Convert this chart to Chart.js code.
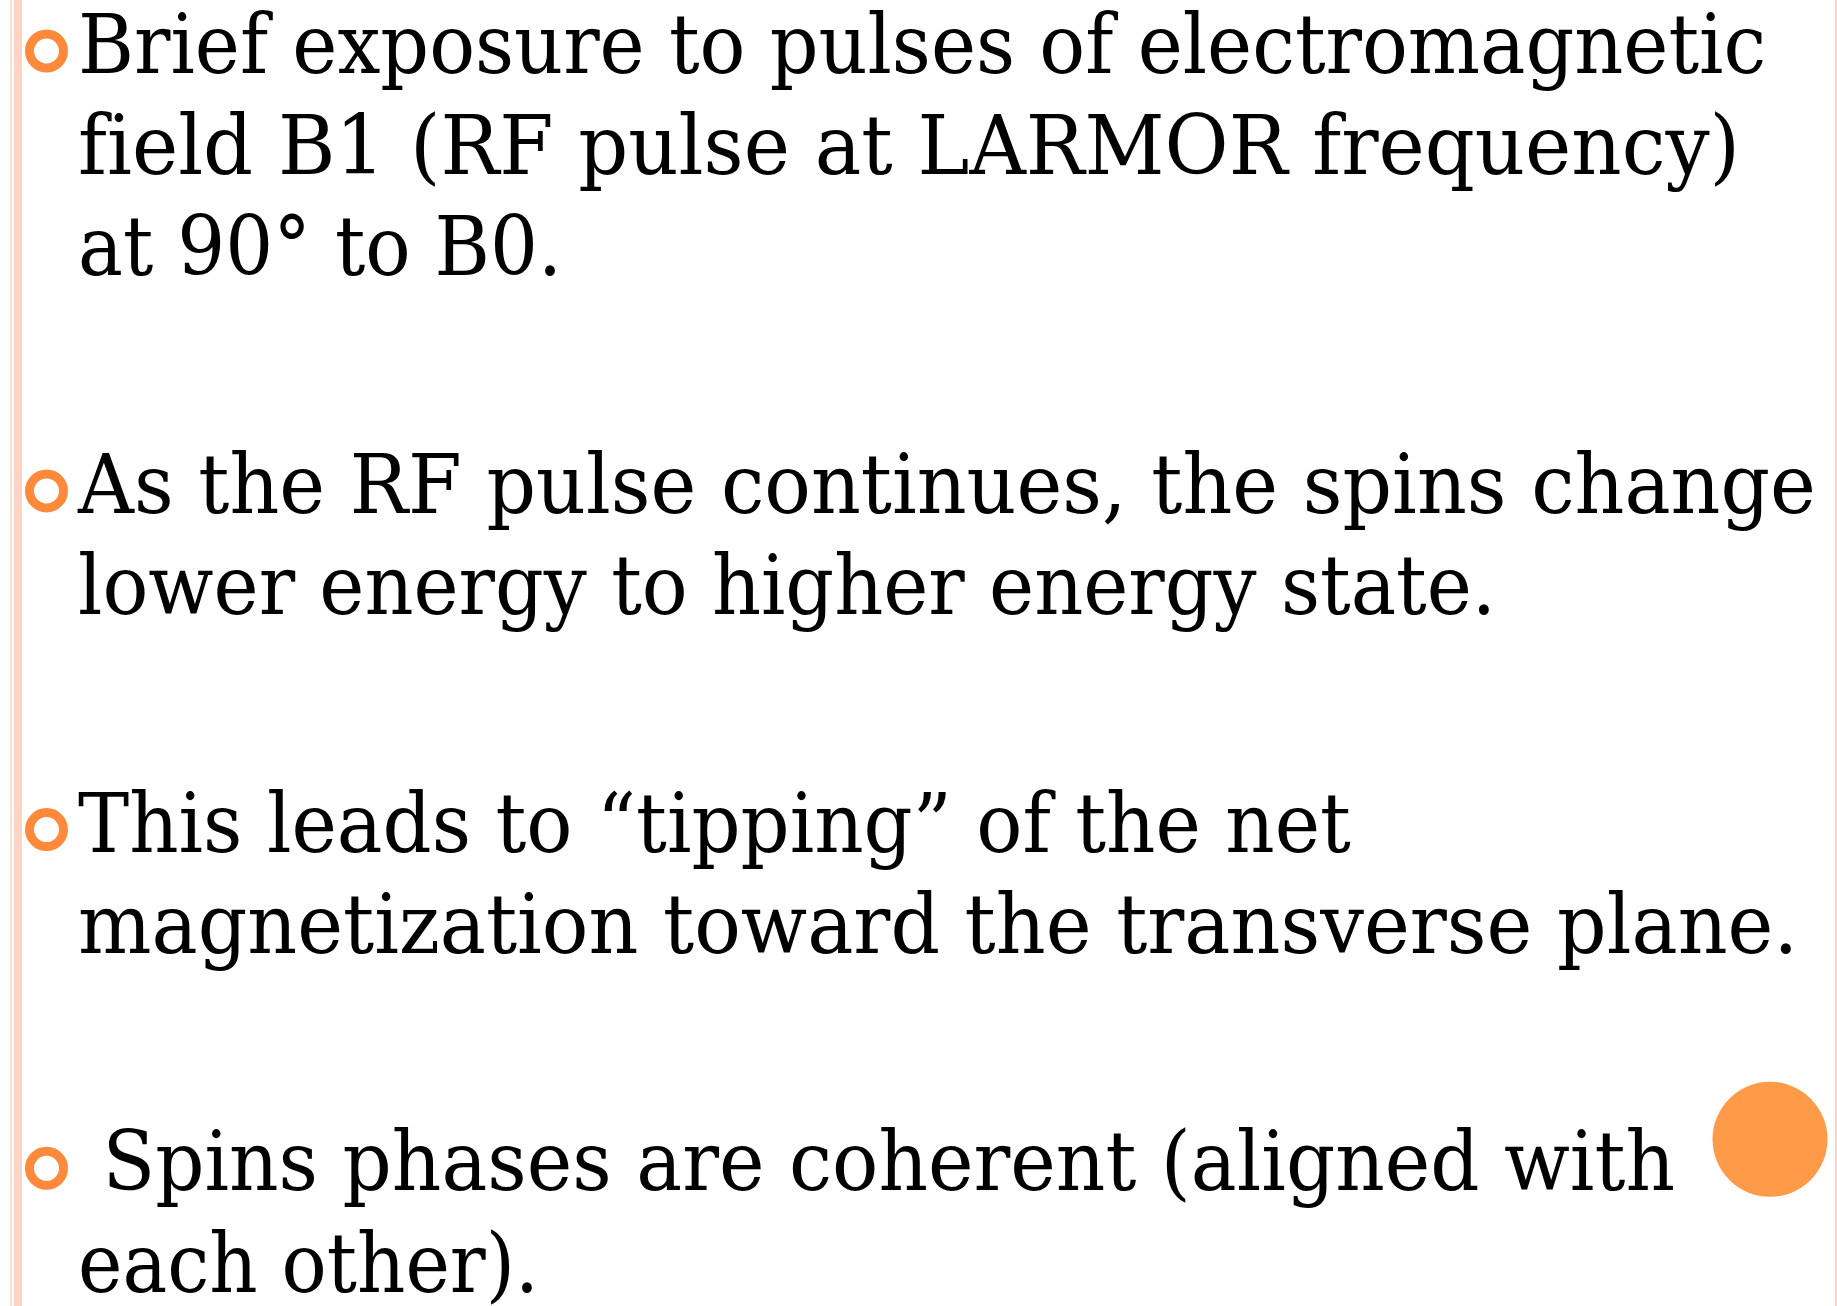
<!DOCTYPE html>
<html>
<head>
<meta charset="utf-8">
<script src="https://cdn.jsdelivr.net/npm/chart.js@4.4.1/dist/chart.umd.min.js"></script>
<style>
  html, body { margin: 0; padding: 0; background: #fff; }
  #slide { position: relative; width: 1837px; height: 1306px; overflow: hidden; background: #fff; }
  #chart { position: absolute; left: 0; top: 0; }
  #text { position: absolute; left: 0; top: 0; width: 1837px; height: 1306px; }
  .line { position: absolute; white-space: pre; font-family: "DejaVu Serif", serif; color: #000;
          transform-origin: 0 0; font-variant-ligatures: none; font-feature-settings: "liga" 0; }
  .rule { position: absolute; top: 0; height: 1306px; }
</style>
</head>
<body>
<div id="slide">
  <div class="rule" style="left:10px;width:2px;background:#ffe0d6"></div>
  <div class="rule" style="left:14px;width:8px;background:#ffd4c4"></div>
  <div class="rule" style="left:1835px;width:2px;background:#ffd4c4"></div>
  <canvas id="chart" width="1837" height="1306"></canvas>
  <div id="text"></div>
</div>
<script>
// Slide text, one list per bullet
const para1 = ['Brief exposure to pulses of electromagnetic', 'field B1 (RF pulse at LARMOR frequency)', 'at 90\u00b0 to B0.'];
const para2 = ['As the RF pulse continues, the spins change', 'lower energy to higher energy state.'];
const para3 = ['This leads to \u201ctipping\u201d of the net', 'magnetization toward the transverse plane.'];
const para4 = [' Spins phases are coherent (aligned with', 'each other).'];
const paragraphs = [para1, para2, para3, para4];

// right edge of each text line
const lineEnds = [1766, 1740, 562, 1816, 1496, 1351, 1798, 1675, 539];

// layout
const TEXT_LEFT = 78;
const FONT_SIZE = 82;
const FIRST_BASELINE = 73;
const LINE_STEP = 101.2;
const PARA_STEP = 237.5;
const BULLET_X = 46.5;
const BULLET_RISE = 22;
const DOT = { x: 1770, rise: 51 };   // big orange dot, beside last bullet

// baselines of every line
const baselines = [];
let y = FIRST_BASELINE;
paragraphs.forEach((p, i) => {
  if (i > 0) y += PARA_STEP - LINE_STEP;
  p.forEach(() => { baselines.push(y); y += LINE_STEP; });
});
const firstLine = [];
let n = 0;
paragraphs.forEach(p => { firstLine.push(n); n += p.length; });

const bulletPoints = firstLine.map(i => ({ x: BULLET_X, y: baselines[i] - BULLET_RISE }));
const dotPoints = [{ x: DOT.x, y: baselines[firstLine[3]] - DOT.rise }];

const chart = new Chart(document.getElementById('chart'), {
  type: 'scatter',
  data: {
    datasets: [
      {
        data: bulletPoints,
        pointStyle: 'circle',
        pointRadius: 17,
        borderWidth: 9,
        borderColor: '#ff8a3c',
        backgroundColor: 'rgba(0,0,0,0)'
      },
      {
        data: dotPoints,
        pointStyle: 'circle',
        pointRadius: 57.5,
        borderWidth: 0,
        backgroundColor: '#ff9a48'
      }
    ]
  },
  options: {
    responsive: false,
    animation: false,
    layout: { padding: 0, autoPadding: false },
    scales: {
      x: { type: 'linear', min: 0, max: 1837, display: false },
      y: { type: 'linear', min: 0, max: 1306, reverse: true, display: false }
    },
    plugins: { legend: { display: false }, tooltip: { enabled: false } }
  }
});

// Place the text lines on the same scale
function placeText() {
  const layer = document.getElementById('text');
  const yScale = chart.scales.y;
  const xScale = chart.scales.x;
  let k = 0;
  paragraphs.forEach(p => {
    p.forEach(line => {
      const div = document.createElement('div');
      div.className = 'line';
      div.style.fontSize = FONT_SIZE + 'px';
      div.style.left = '0px';
      div.style.top = '0px';
      const span = document.createElement('span');
      span.textContent = line;
      const mark = document.createElement('span');
      mark.style.cssText = 'display:inline-block;width:0;height:0;';
      div.append(span, mark);
      layer.appendChild(div);

      const box = div.getBoundingClientRect();
      const base = mark.getBoundingClientRect().top - box.top;
      const width = span.getBoundingClientRect().width;
      const left = xScale.getPixelForValue(TEXT_LEFT);
      const sx = (xScale.getPixelForValue(lineEnds[k]) - left) / width;
      div.style.left = left + 'px';
      div.style.top = (yScale.getPixelForValue(baselines[k]) - base) + 'px';
      div.style.transform = 'scaleX(' + sx.toFixed(4) + ')';
      k++;
    });
  });
}

placeText();
</script>
</body>
</html>
